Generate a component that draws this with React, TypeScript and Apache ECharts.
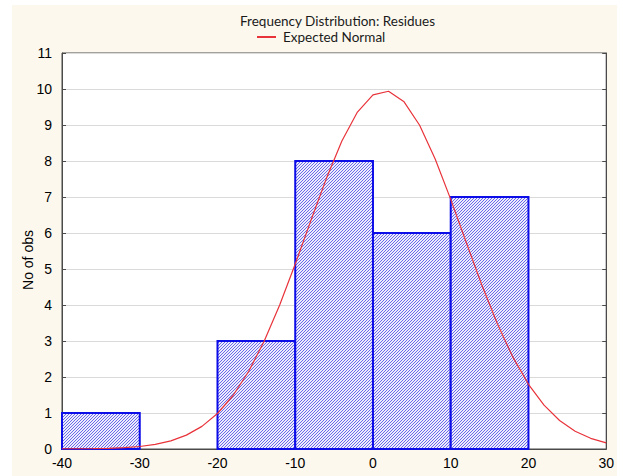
import React, { useEffect, useRef } from "react";
import * as echarts from "echarts";

const chartTitle = "Frequency Distribution: Residues";
const curveName = "Expected Normal";
const yAxisName = "No of obs";

// histogram bins
const binStart = [-40, -30, -20, -10, 0, 10];
const binEnd = [-30, -20, -10, 0, 10, 20];
const binCount = [1, 0, 3, 8, 6, 7];

// expected normal curve
const curveX = [-40, -38, -36, -34, -32, -30, -28, -26, -24, -22, -20, -18, -16, -14, -12, -10, -8, -6, -4, -2, 0, 2, 4, 6, 8, 10, 12, 14, 16, 18, 20, 22, 24, 26, 28, 30];
const curveY = [0.002, 0.004, 0.009, 0.018, 0.036, 0.07, 0.128, 0.227, 0.385, 0.629, 0.986, 1.486, 2.152, 2.994, 4.001, 5.137, 6.338, 7.511, 8.555, 9.359, 9.838, 9.937, 9.644, 8.994, 8.057, 6.934, 5.735, 4.556, 3.478, 2.551, 1.798, 1.217, 0.792, 0.495, 0.297, 0.171];

const hatchSvg =
  "<svg xmlns='http://www.w3.org/2000/svg' width='3' height='3'>" +
  "<rect width='3' height='3' fill='#ececfd'/>" +
  "<path d='M0,3 L3,0 M-1,1 L1,-1 M2,4 L4,2' stroke='#5a5ae6' stroke-width='0.9'/>" +
  "</svg>";
const hatchUrl = "data:image/svg+xml;charset=utf-8," + encodeURIComponent(hatchSvg);

export default function App() {
  const ref = useRef<HTMLDivElement>(null);
  useEffect(() => {
    if (!ref.current) return;
    const chart = echarts.init(ref.current, undefined, { renderer: "svg" });
    const barData = binStart
      .map((s, i) => [s, binEnd[i], binCount[i]])
      .filter((d) => d[2] > 0);
    const lineData = curveX.map((x, i) => [x, curveY[i]]);
    const labelFont = "Arial";
    chart.setOption({
      animation: false,
      backgroundColor: "#ffffff",
      graphic: [
        {
          type: "rect",
          z: -100,
          silent: true,
          shape: { x: 12, y: 5, width: 605, height: 471 },
          style: { fill: "#fcf8ee" },
        },
      ],
      title: {
        text: chartTitle,
        left: 240,
        top: 14,
        padding: 0,
        textStyle: {
          fontFamily: "Lato",
          fontSize: 13.5,
          fontWeight: "normal",
          color: "#1a1a1a",
        },
      },
      legend: {
        left: 257,
        top: 30,
        padding: 0,
        itemWidth: 19,
        itemHeight: 2,
        itemGap: 5,
        data: [{ name: curveName, icon: "rect" }],
        textStyle: {
          fontFamily: "Lato",
          fontSize: 13.5,
          color: "#1a1a1a",
          padding: [0, 0, 0, 2],
        },
      },
      grid: {
        left: 62,
        right: 9,
        top: 53,
        bottom: 27,
        show: true,
        backgroundColor: "#ffffff",
        borderColor: "#4a4a4a",
        borderWidth: 1,
      },
      xAxis: {
        type: "value",
        min: -40,
        max: 30,
        interval: 10,
        splitLine: { show: false },
        axisLine: { show: true, onZero: false, lineStyle: { color: "#4a4a4a", width: 1 } },
        axisTick: { show: false },
        axisLabel: {
          margin: 7,
          fontFamily: labelFont,
          fontSize: 14,
          color: "#000",
        },
      },
      yAxis: [
        {
          type: "value",
          min: 0,
          max: 11,
          interval: 1,
          name: yAxisName,
          nameLocation: "middle",
          nameGap: 27,
          nameMoveOverlap: false,
          nameTextStyle: {
            fontFamily: labelFont,
            fontSize: 14,
            color: "#000",
            padding: [0, 18, 0, 0],
          },
          splitLine: { show: true, lineStyle: { color: "#dadada", width: 1 } },
          axisLine: { show: true, onZero: false, lineStyle: { color: "#4a4a4a", width: 1 } },
          axisTick: { show: true, inside: true, length: 4, lineStyle: { color: "#4a4a4a" } },
          axisLabel: {
            margin: 10,
            fontFamily: labelFont,
            fontSize: 14,
            color: "#000",
          },
        },
        {
          type: "value",
          position: "right",
          min: 0,
          max: 11,
          interval: 1,
          splitLine: { show: false },
          axisLine: { show: true, onZero: false, lineStyle: { color: "#4a4a4a", width: 1 } },
          axisTick: { show: true, inside: true, length: 4, lineStyle: { color: "#4a4a4a" } },
          axisLabel: { show: false },
        },
      ],
      series: [
        {
          type: "custom",
          name: "Residues",
          data: barData,
          encode: { x: [0, 1], y: 2 },
          z: 3,
          renderItem: (params: any, api: any) => {
            const p0 = api.coord([api.value(0), api.value(2)]);
            const p1 = api.coord([api.value(1), 0]);
            return {
              type: "rect",
              shape: { x: p0[0], y: p0[1], width: p1[0] - p0[0], height: p1[1] - p0[1] },
              style: {
                fill: { image: hatchUrl, repeat: "repeat", imageWidth: 3, imageHeight: 3 },
                stroke: "#0c0ce8",
                lineWidth: 2,
              },
            };
          },
        },
        {
          type: "line",
          name: curveName,
          data: lineData,
          symbol: "none",
          showSymbol: false,
          z: 5,
          color: "#e8333a",
          lineStyle: { color: "#e8333a", width: 1.2 },
        },
      ],
    });
    return () => chart.dispose();
  }, []);
  return (
    <div
      ref={ref}
      style={{ position: "fixed", left: 0, top: 0, width: 617, height: 476 }}
    />
  );
}
